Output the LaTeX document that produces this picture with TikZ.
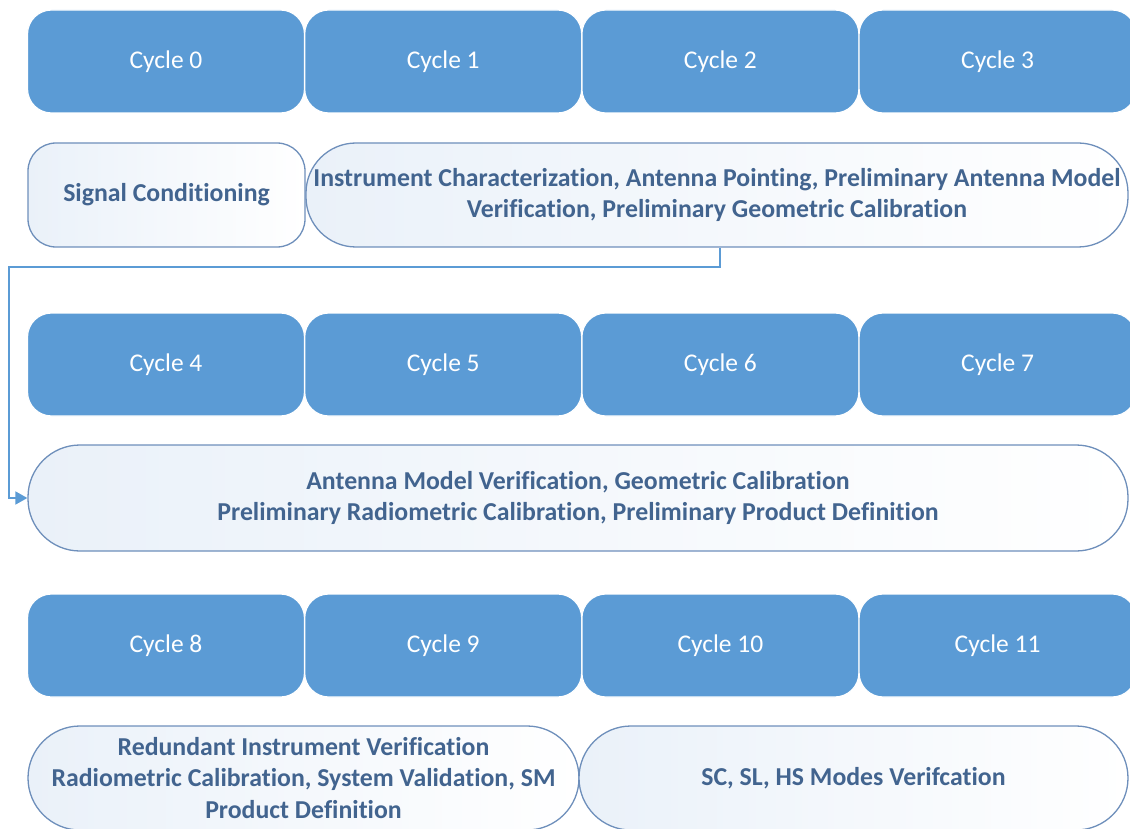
\documentclass[tikz,border=0pt]{standalone}
\usepackage{fontspec}
\setmainfont{Carlito}[Ligatures=NoCommon]
\usetikzlibrary{positioning,arrows.meta}

\definecolor{cyclefill}{HTML}{5B9BD5}
\definecolor{descline}{HTML}{6E8FBB}
\definecolor{desctext}{HTML}{42648F}
\definecolor{descfill}{HTML}{EAF1F9}

\tikzset{
  cycle/.style={draw=white, line width=1.2pt, fill=cyclefill, rounded corners=24pt,
    minimum width=277pt, minimum height=103pt, text=white,
    font=\fontsize{25.5}{30}\selectfont},
  task/.style={draw=descline, line width=1.3pt, left color=descfill, right color=white,
    minimum height=104pt, text=desctext, align=center,
    font=\bfseries\fontsize{25.8}{31.5}\selectfont},
  conn/.style={draw=cyclefill, line width=1.8pt, -{Triangle[length=12pt,width=13pt]}}
}

\begin{document}
\begin{tikzpicture}[x=1pt, y=1pt, node distance=-1pt]
  \useasboundingbox (0,0) rectangle (1130,-829);
  % first year
  \node[cycle] (c0) at (166,-61.5) {Cycle 0};
  \node[cycle, right=of c0] (c1) {Cycle 1};
  \node[cycle, right=of c1] (c2) {Cycle 2};
  \node[cycle, right=of c2] (c3) {Cycle 3};
  \node[task, rounded corners=28pt, minimum width=277pt] (sig) at (166.5,-195) {Signal Conditioning};
  \node[task, rounded corners=50pt, minimum width=822pt] (instr) at (717,-195)
    {Instrument Characterization, Antenna Pointing, Preliminary Antenna Model\\
     Verification, Preliminary Geometric Calibration};
  % second year
  \node[cycle] (c4) at (166,-364.5) {Cycle 4};
  \node[cycle, right=of c4] (c5) {Cycle 5};
  \node[cycle, right=of c5] (c6) {Cycle 6};
  \node[cycle, right=of c6] (c7) {Cycle 7};
  \node[task, rounded corners=52pt, minimum width=1100pt, minimum height=106pt] (ant) at (578,-498)
    {Antenna Model Verification, Geometric Calibration\\
     Preliminary Radiometric Calibration, Preliminary Product Definition};
  % third year
  \node[cycle] (c8) at (166,-645.5) {Cycle 8};
  \node[cycle, right=of c8] (c9) {Cycle 9};
  \node[cycle, right=of c9] (c10) {Cycle 10};
  \node[cycle, right=of c10] (c11) {Cycle 11};
  \node[task, rounded corners=52pt, minimum width=551pt] (red) at (303.5,-778)
    {Redundant Instrument Verification\\
     Radiometric Calibration, System Validation, SM\\
     Product Definition};
  \node[task, rounded corners=52pt, minimum width=549pt] (sc) at (853.5,-778)
    {SC, SL, HS Modes Verifcation};

  \draw[conn] ([xshift=3pt]instr.south) -- ++(0,-19) -| ([xshift=-18pt]ant.west) -- (ant.west);
\end{tikzpicture}
\end{document}
